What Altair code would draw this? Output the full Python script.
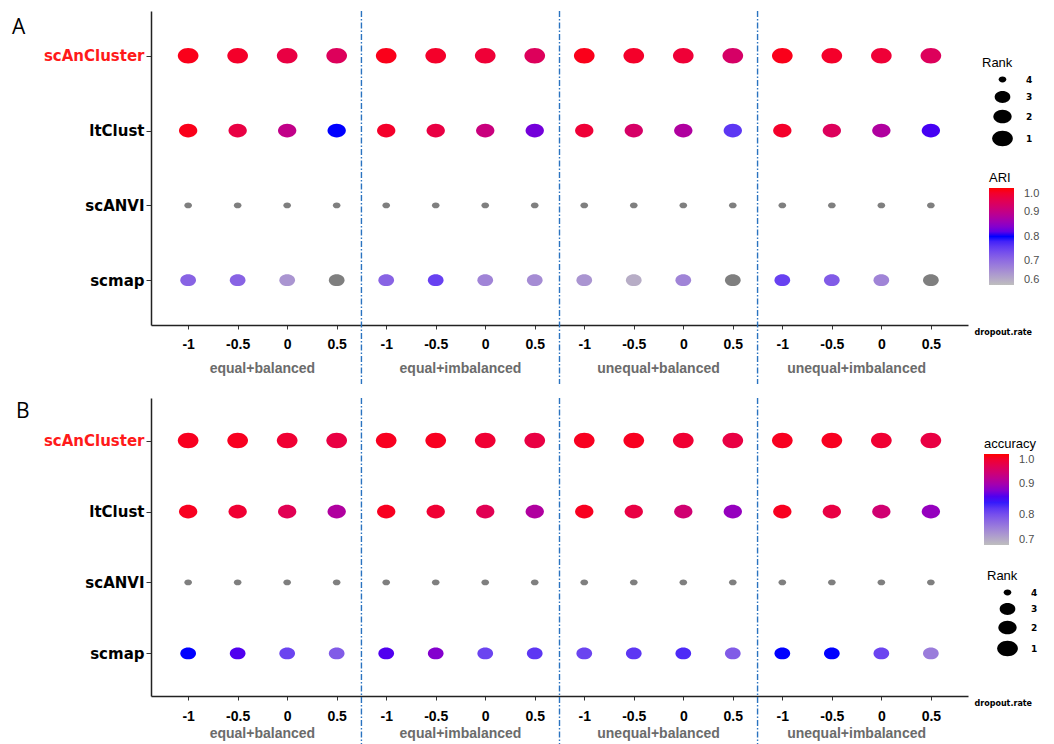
import altair as alt
import pandas as pd

# ---- data ----
methods = ["scAnCluster", "ltClust", "scANVI", "scmap"]
method_rank = [1, 2, 4, 3]
groups = ["equal+balanced", "equal+imbalanced", "unequal+balanced", "unequal+imbalanced"]
dropout_labels = ["-1", "-0.5", "0", "0.5"]

# ARI per method, 4 dropout rates x 4 settings (in group order)
ari_scancluster = [0.99, 0.98, 0.96, 0.94, 0.99, 0.98, 0.97, 0.94,
                   0.99, 0.98, 0.97, 0.93, 0.99, 0.98, 0.97, 0.94]
ari_ltclust = [0.99, 0.96, 0.90, 0.80, 0.98, 0.96, 0.91, 0.83,
               0.97, 0.93, 0.88, 0.76, 0.98, 0.94, 0.88, 0.81]
ari_scanvi = [0.45, 0.44, 0.43, 0.42, 0.44, 0.43, 0.42, 0.41,
              0.42, 0.41, 0.40, 0.39, 0.41, 0.40, 0.39, 0.38]
ari_scmap = [0.71, 0.71, 0.65, 0.55, 0.71, 0.75, 0.67, 0.66,
             0.65, 0.62, 0.67, 0.55, 0.75, 0.72, 0.67, 0.55]

# accuracy per method
acc_scancluster = [0.99, 0.99, 0.98, 0.97, 0.99, 0.99, 0.98, 0.97,
                   0.99, 0.99, 0.98, 0.97, 0.99, 0.99, 0.98, 0.97]
acc_ltclust = [0.99, 0.98, 0.96, 0.91, 0.99, 0.98, 0.96, 0.91,
               0.99, 0.97, 0.94, 0.89, 0.99, 0.97, 0.94, 0.89]
acc_scanvi = [0.62, 0.61, 0.60, 0.59, 0.61, 0.60, 0.59, 0.58,
              0.60, 0.59, 0.58, 0.57, 0.59, 0.58, 0.57, 0.56]
acc_scmap = [0.85, 0.86, 0.81, 0.79, 0.86, 0.88, 0.81, 0.82,
             0.81, 0.82, 0.83, 0.79, 0.85, 0.85, 0.81, 0.76]


def build_frame(metric, series):
    rows = []
    for m_i, (method, values) in enumerate(zip(methods, series)):
        for k, v in enumerate(values):
            g, d = divmod(k, len(dropout_labels))
            rows.append({
                "method": method, "row": m_i, "col": k,
                "group": groups[g], "dropout": dropout_labels[d],
                "Rank": method_rank[m_i], metric: v,
            })
    return pd.DataFrame(rows)


df_ari = build_frame("ARI", [ari_scancluster, ari_ltclust, ari_scanvi, ari_scmap])
df_acc = build_frame("accuracy", [acc_scancluster, acc_ltclust, acc_scanvi, acc_scmap])

# ellipse symbol path (unit box), drawn through the size scale
ELLIPSE = "M-1,0A1,0.75 0 1,1 1,0A1,0.75 0 1,1 -1,0Z"
TICK_FONT = "Liberation Sans"
NA_GREY = "#7f7f7f"
DIVIDER_BLUE = "#2a73c0"

tick_expr = "[" + ",".join(f"'{t}'" for t in dropout_labels) + "][datum.value % 4]"
method_expr = "[" + ",".join(f"'{m}'" for m in methods) + "][datum.value]"


def panel(df, metric, letter, lo, width, height, color_xy, rank_xy, grad_len,
          rank_pad, letter_xy, rule_extent, tick_pad, group_offset):
    mid = round((lo + 1.0) / 2, 3)
    xscale = alt.Scale(domain=[-0.75, 15.75], nice=False, zero=False)
    x_axis = alt.Axis(
        values=list(range(16)), labelExpr=tick_expr, grid=False,
        labelFont=TICK_FONT, labelFontSize=14, labelFontWeight="bold",
        labelColor="black", labelPadding=tick_pad, tickSize=4, tickColor="#333333",
        domainColor="#222222", domainWidth=1.5,
        title="dropout.rate", titleFont="DejaVu Sans", titleFontSize=8,
        titleFontWeight="bold", titleAlign="left", titleBaseline="middle",
        titleX=width + 6, titleY=7, titleColor="black",
    )
    y_axis = alt.Axis(
        values=[0, 1, 2, 3], labelExpr=method_expr, grid=False, title=None,
        labelFont="DejaVu Sans", labelFontSize=15, labelFontWeight="bold",
        labelColor={"condition": {"test": "datum.value == 0", "value": "#ff1a1a"},
                    "value": "black"},
        labelPadding=2, tickSize=5, tickColor="#333333",
        domainColor="#222222", domainWidth=1.5,
    )
    x = alt.X("col:Q", scale=xscale, axis=x_axis)
    y = alt.Y("row:Q", scale=alt.Scale(domain=[-0.6, 3.6], reverse=True, nice=False, zero=False),
              axis=y_axis)

    color = alt.Color(
        f"{metric}:Q",
        scale=alt.Scale(domain=[lo, mid, 1.0], range=["#bebebe", "#0000ff", "#ff0000"],
                        interpolate="lab"),
        legend=alt.Legend(
            orient="none", legendX=color_xy[0], legendY=color_xy[1],
            direction="vertical", gradientLength=grad_len, gradientThickness=25,
            gradientStrokeWidth=0,
            values=[round(lo + 0.1 * i, 1) for i in range(int(round((1.0 - lo) * 10)) + 1)],
            format=".1f", labelOverlap=False, labelFont="Liberation Sans",
            labelFontSize=11, labelColor="#4d4d4d", labelOffset=10,
            titleFont="Liberation Sans", titleFontSize=13, titleFontWeight="normal",
            titleColor="black", titlePadding=3,
        ),
    )
    size_scale = alt.Scale(domain=[1, 2, 3, 4], range=[428, 335, 246, 59], zero=False)
    size = alt.Size(
        "Rank:Q",
        scale=size_scale,
        legend=alt.Legend(
            orient="none", legendX=rank_xy[0], legendY=rank_xy[1],
            values=[4, 3, 2, 1], format="d",
            symbolType=ELLIPSE, symbolFillColor="black", symbolStrokeWidth=0,
            symbolOpacity=1, symbolOffset=10, rowPadding=rank_pad,
            labelFont="DejaVu Sans", labelFontSize=9, labelFontWeight="bold",
            labelColor="black", labelOffset=13,
            titleFont="Liberation Sans", titleFontSize=13, titleFontWeight="normal",
            titleColor="black", titlePadding=5,
        ),
    )

    # scores inside the colour range
    points = alt.Chart(df).transform_filter(
        f"datum['{metric}'] >= {lo}"
    ).mark_point(
        filled=True, opacity=1, shape=ELLIPSE, strokeWidth=0
    ).encode(x=x, y=y, color=color, size=size)

    # scores below the colour range are drawn in grey
    low_points = alt.Chart(df).transform_filter(
        f"datum['{metric}'] < {lo}"
    ).mark_point(
        filled=True, opacity=1, shape=ELLIPSE, strokeWidth=0, fill=NA_GREY
    ).encode(
        x=alt.X("col:Q", title="dropout.rate"),
        y=alt.Y("row:Q"),
        size=alt.Size("Rank:Q", scale=size_scale, legend=None),
    )

    dividers = alt.Chart(df).transform_aggregate(
        last="max(col)", groupby=["group"]
    ).transform_calculate(
        edge="datum.last + 0.5"
    ).transform_filter(
        "datum.edge < 15"
    ).mark_rule(
        color=DIVIDER_BLUE, stroke=DIVIDER_BLUE, strokeWidth=1.4,
        strokeDash=[6, 2, 1.5, 2], opacity=1,
    ).encode(
        x=alt.X("edge:Q", title="dropout.rate"),
        y=alt.value(0),
        y2=alt.value(height + rule_extent),
    )

    group_text = alt.Chart(df).transform_aggregate(
        center="mean(col)", groupby=["group"]
    ).mark_text(
        font="Liberation Sans", fontSize=14, fontWeight="bold", color="#6b6b6b",
        baseline="middle",
    ).encode(
        x=alt.X("center:Q", title="dropout.rate"),
        y=alt.value(height + group_offset),
        text="group:N",
    )

    tag = alt.Chart(pd.DataFrame({"panel": [letter]})).mark_text(
        font="Open Sans", fontSize=21, align="left", baseline="top", color="black"
    ).encode(text="panel:N", x=alt.value(letter_xy[0]), y=alt.value(letter_xy[1]))

    return alt.layer(dividers, points, low_points, group_text, tag).properties(
        width=width, height=height,
        view=alt.ViewBackground(stroke="transparent", strokeWidth=0),
    )


panel_a = panel(df_ari, "ARI", "A", 0.6, 817, 314,
                color_xy=(838, 161), rank_xy=(831, 46), grad_len=97,
                rank_pad=4, letter_xy=(-139, 6), rule_extent=59, tick_pad=8,
                group_offset=44)
panel_b = panel(df_acc, "accuracy", "B", 0.7, 817, 298,
                color_xy=(833, 40), rank_xy=(836, 172), grad_len=91,
                rank_pad=3, letter_xy=(-135, 3), rule_extent=48, tick_pad=9,
                group_offset=38)

chart = alt.vconcat(panel_a, panel_b, spacing=12).resolve_scale(
    color="independent", size="independent", x="independent", y="independent"
).resolve_legend(
    color="independent", size="independent"
).properties(
    padding={"left": 12, "top": 10, "right": 0, "bottom": 0}
).configure_view(
    strokeWidth=0, stroke="transparent"
).configure(background="white")

chart.save("out.html", embed_options={"renderer": "svg", "actions": False})
